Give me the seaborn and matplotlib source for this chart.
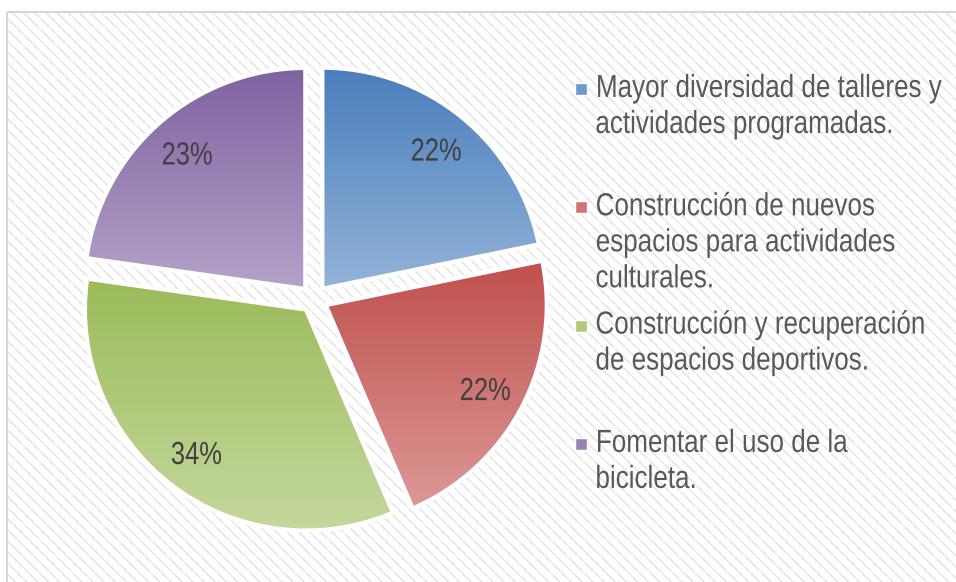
import numpy as np
import matplotlib
matplotlib.use("Agg")
import matplotlib.pyplot as plt
from matplotlib import font_manager
from matplotlib.patches import Rectangle
from matplotlib.colors import to_rgb
from matplotlib.patheffects import AbstractPathEffect
from matplotlib.transforms import Affine2D
import seaborn as sns

# Survey results
categories = [
    "Mayor diversidad de talleres y\nactividades programadas.",
    "Construcción de nuevos\nespacios para actividades\nculturales.",
    "Construcción y recuperación\nde espacios deportivos.",
    "Fomentar el uso de la\nbicicleta.",
]
values = [22, 22, 34, 23]
pct_labels = [f"{v}%" for v in values]

# (top colour, bottom colour) for each slice gradient
gradients = [
    ("#4a7ebb", "#93b3d9"),
    ("#c0504d", "#dc9896"),
    ("#9bbb59", "#c5d89d"),
    ("#7f62a1", "#b3a3c8"),
]


class Condense(AbstractPathEffect):
    """Draw text glyphs horizontally narrowed (a narrow-font look)."""

    def __init__(self, sx=0.82, anchor="left"):
        super().__init__()
        self.sx = sx
        self.anchor = anchor

    def draw_path(self, renderer, gc, tpath, affine, rgbFace=None):
        xc = 0.0
        if self.anchor != "left":
            ext = tpath.get_extents()
            xc = (ext.x0 + ext.x1) / 2 if self.anchor == "center" else ext.x1
        t = Affine2D().translate(-xc, 0).scale(self.sx, 1).translate(xc, 0)
        renderer.draw_path(gc, tpath, t + affine, rgbFace)


sns.set_theme(style="white")

available = {f.name for f in font_manager.fontManager.ttflist}
narrow = None
for cand in ["Liberation Sans Narrow", "Arial Narrow"]:
    if cand in available:
        narrow = cand
        break
family = narrow or "Liberation Sans"
squeeze = 1.0 if narrow else 0.815
plt.rcParams["font.family"] = [family, "DejaVu Sans"]
plt.rcParams["hatch.linewidth"] = 1.0

W, H = 956, 582
fig = plt.figure(figsize=(W / 100, H / 100), dpi=100)
fig.patch.set_facecolor("white")
renderer = fig.canvas.get_renderer()

# Background panel with diagonal texture (pixel coordinates)
bg = fig.add_axes([0, 0, 1, 1])
bg.set_xlim(0, W)
bg.set_ylim(H, 0)
bg.axis("off")
bg.add_patch(Rectangle((8, 12), W, H, facecolor="white", edgecolor="#e2e2e2",
                       hatch="\\\\\\", linewidth=0, zorder=0))
for x in np.arange(8, W, 16):
    bg.plot([x, x], [12, H], color="white", lw=1.2, alpha=0.45, zorder=1)
for y in np.arange(12, H, 16):
    bg.plot([8, W], [y, y], color="white", lw=1.2, alpha=0.45, zorder=1)
bg.add_patch(Rectangle((7.5, 11.5), W, H, facecolor="none", edgecolor="#d6d6d6",
                       linewidth=1.5, zorder=2))

# Pie area
cx, cy, r_px = 314, 299, 221
half = 265
ax = fig.add_axes([(cx - half) / W, (H - (cy + half)) / H, 2 * half / W, 2 * half / H])
ax.set_facecolor("none")

wedges, _ = ax.pie(values, startangle=90, counterclock=False,
                   explode=[0.06] * len(values), radius=1.0,
                   wedgeprops=dict(facecolor="none", edgecolor="white", linewidth=3))

for w, (c_top, c_bot) in zip(wedges, gradients):
    w.set_zorder(3)
    ext = w.get_path().get_extents()
    n = 256
    t = np.linspace(0, 1, n)[:, None, None]
    grad = (1 - t) * np.array(to_rgb(c_top)) + t * np.array(to_rgb(c_bot))
    grad = np.repeat(grad, 2, axis=1)
    im = ax.imshow(grad, extent=(ext.x0, ext.x1, ext.y0, ext.y1), origin="upper",
                   aspect="auto", zorder=2, interpolation="bilinear")
    im.set_clip_path(w)

pct_size = 23
cap_half = 0.716 * pct_size * (100 / 72) / 2 / r_px  # half cap height in data units
for w, lab in zip(wedges, pct_labels):
    ang = np.deg2rad((w.theta1 + w.theta2) / 2)
    x = w.center[0] + 0.815 * np.cos(ang)
    y = w.center[1] + 0.815 * np.sin(ang)
    ax.text(x, y - cap_half, lab, ha="center", va="baseline", fontsize=pct_size,
            color="#404040", zorder=4,
            path_effects=[Condense(squeeze * 0.98, "center")])

lim = half / r_px
ax.set_xlim(-lim, lim)
ax.set_ylim(-lim, lim)
ax.set_aspect("equal")
ax.axis("off")

# Legend drawn line by line; each line is right-anchored at the end of its
# narrowed width so that it starts at the legend's text column.
text_x = 596
first_baseline = 97
entry_step = 118.3
line_step = 36
for i, (lab, (c_top, c_bot)) in enumerate(zip(categories, gradients)):
    base = first_baseline + i * entry_step
    mid = tuple((np.array(to_rgb(c_top)) + np.array(to_rgb(c_bot))) / 2)
    bg.add_patch(Rectangle((575, base - 14), 12, 12, facecolor=mid, edgecolor="white",
                           linewidth=1, zorder=3))
    for k, line in enumerate(lab.split("\n")):
        txt = bg.text(text_x, base + k * line_step, line, ha="left", va="baseline",
                      fontsize=23, color="#595959", zorder=3)
        width = txt.get_window_extent(renderer).width
        txt.set_horizontalalignment("right")
        txt.set_x(text_x + squeeze * width)
        txt.set_path_effects([Condense(squeeze, "right")])

fig.savefig("out.png", dpi=100)
